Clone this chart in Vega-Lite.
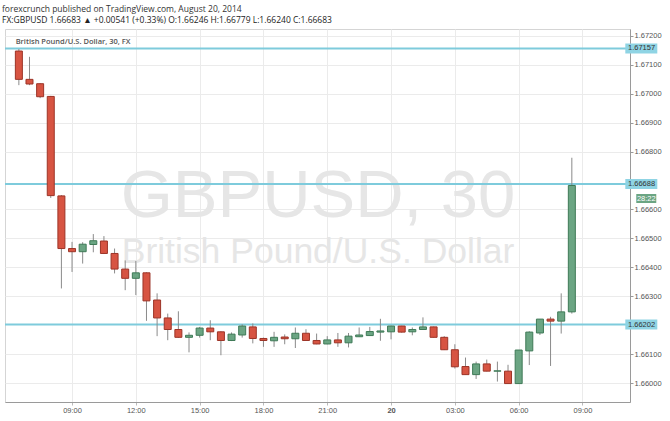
{
  "$schema": "https://vega.github.io/schema/vega-lite/v6.json",
  "width": 625,
  "height": 373,
  "autosize": {"type": "none"},
  "padding": {"left": 5, "top": 29, "right": 40, "bottom": 19},
  "background": "white",
  "title": {
    "text": "forexcrunch  published on TradingView.com, August 20, 2014",
    "subtitle": "FX:GBPUSD 1.66683 ▲ +0.00541 (+0.33%) O:1.66246 H:1.66779 L:1.66240 C:1.66683",
    "anchor": "start",
    "frame": "group",
    "orient": "top",
    "offset": 5,
    "dx": -3,
    "font": "Open Sans",
    "fontSize": 8.5,
    "fontWeight": "normal",
    "color": "#333333",
    "subtitleFont": "Open Sans",
    "subtitleFontSize": 8.5,
    "subtitleColor": "#222222",
    "subtitlePadding": 2
  },
  "datasets": {
    "candles": [
      {"t": "2014-08-19T06:30:00Z", "open": 1.67148, "high": 1.67155, "low": 1.67030, "close": 1.67050},
      {"t": "2014-08-19T07:00:00Z", "open": 1.67050, "high": 1.67128, "low": 1.67030, "close": 1.67034},
      {"t": "2014-08-19T07:30:00Z", "open": 1.67035, "high": 1.67037, "low": 1.66985, "close": 1.66990},
      {"t": "2014-08-19T08:00:00Z", "open": 1.66991, "high": 1.66993, "low": 1.66640, "close": 1.66648},
      {"t": "2014-08-19T08:30:00Z", "open": 1.66647, "high": 1.66650, "low": 1.66327, "close": 1.66465},
      {"t": "2014-08-19T09:00:00Z", "open": 1.66465, "high": 1.66488, "low": 1.66384, "close": 1.66454},
      {"t": "2014-08-19T09:30:00Z", "open": 1.66454, "high": 1.66487, "low": 1.66413, "close": 1.66480},
      {"t": "2014-08-19T10:00:00Z", "open": 1.66479, "high": 1.66515, "low": 1.66452, "close": 1.66492},
      {"t": "2014-08-19T10:30:00Z", "open": 1.66491, "high": 1.66508, "low": 1.66446, "close": 1.66448},
      {"t": "2014-08-19T11:00:00Z", "open": 1.66448, "high": 1.66465, "low": 1.66379, "close": 1.66394},
      {"t": "2014-08-19T11:30:00Z", "open": 1.66394, "high": 1.66424, "low": 1.66321, "close": 1.66362},
      {"t": "2014-08-19T12:00:00Z", "open": 1.66362, "high": 1.66422, "low": 1.66304, "close": 1.66381},
      {"t": "2014-08-19T12:30:00Z", "open": 1.66381, "high": 1.66383, "low": 1.66215, "close": 1.66284},
      {"t": "2014-08-19T13:00:00Z", "open": 1.66287, "high": 1.66310, "low": 1.66162, "close": 1.66225},
      {"t": "2014-08-19T13:30:00Z", "open": 1.66225, "high": 1.66240, "low": 1.66148, "close": 1.66185},
      {"t": "2014-08-19T14:00:00Z", "open": 1.66185, "high": 1.66248, "low": 1.66156, "close": 1.66158},
      {"t": "2014-08-19T14:30:00Z", "open": 1.66158, "high": 1.66175, "low": 1.66106, "close": 1.66165},
      {"t": "2014-08-19T15:00:00Z", "open": 1.66165, "high": 1.66194, "low": 1.66157, "close": 1.66190},
      {"t": "2014-08-19T15:30:00Z", "open": 1.66190, "high": 1.66217, "low": 1.66148, "close": 1.66177},
      {"t": "2014-08-19T16:00:00Z", "open": 1.66177, "high": 1.66179, "low": 1.66096, "close": 1.66147},
      {"t": "2014-08-19T16:30:00Z", "open": 1.66147, "high": 1.66175, "low": 1.66145, "close": 1.66169},
      {"t": "2014-08-19T17:00:00Z", "open": 1.66166, "high": 1.66203, "low": 1.66157, "close": 1.66197},
      {"t": "2014-08-19T17:30:00Z", "open": 1.66194, "high": 1.66206, "low": 1.66137, "close": 1.66154},
      {"t": "2014-08-19T18:00:00Z", "open": 1.66154, "high": 1.66157, "low": 1.66125, "close": 1.66147},
      {"t": "2014-08-19T18:30:00Z", "open": 1.66146, "high": 1.66177, "low": 1.66125, "close": 1.66158},
      {"t": "2014-08-19T19:00:00Z", "open": 1.66159, "high": 1.66168, "low": 1.66134, "close": 1.66153},
      {"t": "2014-08-19T19:30:00Z", "open": 1.66153, "high": 1.66192, "low": 1.66121, "close": 1.66172},
      {"t": "2014-08-19T20:00:00Z", "open": 1.66172, "high": 1.66186, "low": 1.66146, "close": 1.66147},
      {"t": "2014-08-19T20:30:00Z", "open": 1.66147, "high": 1.66171, "low": 1.66134, "close": 1.66135},
      {"t": "2014-08-19T21:00:00Z", "open": 1.66135, "high": 1.66162, "low": 1.66134, "close": 1.66149},
      {"t": "2014-08-19T21:30:00Z", "open": 1.66149, "high": 1.66173, "low": 1.66125, "close": 1.66139},
      {"t": "2014-08-19T22:00:00Z", "open": 1.66139, "high": 1.66173, "low": 1.66123, "close": 1.66162},
      {"t": "2014-08-19T22:30:00Z", "open": 1.66160, "high": 1.66192, "low": 1.66159, "close": 1.66166},
      {"t": "2014-08-19T23:00:00Z", "open": 1.66164, "high": 1.66194, "low": 1.66163, "close": 1.66178},
      {"t": "2014-08-19T23:30:00Z", "open": 1.66176, "high": 1.66222, "low": 1.66146, "close": 1.66180},
      {"t": "2014-08-20T00:00:00Z", "open": 1.66177, "high": 1.66198, "low": 1.66151, "close": 1.66197},
      {"t": "2014-08-20T00:30:00Z", "open": 1.66197, "high": 1.66198, "low": 1.66174, "close": 1.66176},
      {"t": "2014-08-20T01:00:00Z", "open": 1.66177, "high": 1.66192, "low": 1.66165, "close": 1.66185},
      {"t": "2014-08-20T01:30:00Z", "open": 1.66185, "high": 1.66227, "low": 1.66184, "close": 1.66194},
      {"t": "2014-08-20T02:00:00Z", "open": 1.66194, "high": 1.66195, "low": 1.66157, "close": 1.66158},
      {"t": "2014-08-20T02:30:00Z", "open": 1.66158, "high": 1.66162, "low": 1.66114, "close": 1.66115},
      {"t": "2014-08-20T03:00:00Z", "open": 1.66115, "high": 1.66134, "low": 1.66050, "close": 1.66056},
      {"t": "2014-08-20T03:30:00Z", "open": 1.66057, "high": 1.66088, "low": 1.66029, "close": 1.66029},
      {"t": "2014-08-20T04:00:00Z", "open": 1.66029, "high": 1.66074, "low": 1.66014, "close": 1.66066},
      {"t": "2014-08-20T04:30:00Z", "open": 1.66066, "high": 1.66081, "low": 1.66040, "close": 1.66041},
      {"t": "2014-08-20T05:00:00Z", "open": 1.66041, "high": 1.66074, "low": 1.66005, "close": 1.66042},
      {"t": "2014-08-20T05:30:00Z", "open": 1.66041, "high": 1.66063, "low": 1.65998, "close": 1.65998},
      {"t": "2014-08-20T06:00:00Z", "open": 1.65998, "high": 1.66114, "low": 1.65997, "close": 1.66114},
      {"t": "2014-08-20T06:30:00Z", "open": 1.66111, "high": 1.66179, "low": 1.66062, "close": 1.66176},
      {"t": "2014-08-20T07:00:00Z", "open": 1.66173, "high": 1.66221, "low": 1.66166, "close": 1.66221},
      {"t": "2014-08-20T07:30:00Z", "open": 1.66221, "high": 1.66229, "low": 1.66059, "close": 1.66214},
      {"t": "2014-08-20T08:00:00Z", "open": 1.66214, "high": 1.66310, "low": 1.66171, "close": 1.66246},
      {"t": "2014-08-20T08:30:00Z", "open": 1.66246, "high": 1.66779, "low": 1.66240, "close": 1.66683}
    ],
    "levels": [
      {"level": 1.67157, "label": "1.67157"},
      {"level": 1.66688, "label": "1.66688"},
      {"level": 1.66202, "label": "1.66202"}
    ],
    "timer": [
      {"level": 1.66638, "label": "28:22"}
    ]
  },
  "layer": [
    {
      "data": {"values": [{}]},
      "mark": {"type": "text", "font": "Liberation Sans", "fontSize": 67, "color": "#e6e6e6", "align": "center", "baseline": "alphabetic"},
      "encoding": {
        "x": {"datum": 1408480440000, "type": "temporal"},
        "y": {"datum": 1.66575, "type": "quantitative"},
        "text": {"value": "GBPUSD, 30"}
      }
    },
    {
      "data": {"values": [{}]},
      "mark": {"type": "text", "font": "Liberation Sans", "fontSize": 35.5, "color": "#e6e6e6", "align": "center", "baseline": "alphabetic"},
      "encoding": {
        "x": {"datum": 1408480440000, "type": "temporal"},
        "y": {"datum": 1.66414, "type": "quantitative"},
        "text": {"value": "British Pound/U.S. Dollar"}
      }
    },
    {
      "data": {"values": [{}]},
      "mark": {"type": "text", "font": "Open Sans", "fontSize": 7.5, "fontWeight": 600, "color": "#555555", "align": "left", "baseline": "alphabetic"},
      "encoding": {
        "x": {"datum": 1408429260000, "type": "temporal"},
        "y": {"datum": 1.67174, "type": "quantitative"},
        "text": {"value": "British Pound/U.S. Dollar, 30, FX"}
      }
    },
    {
      "data": {"name": "levels"},
      "mark": {"type": "rule", "color": "#7ecbdc", "strokeWidth": 2},
      "encoding": {
        "y": {"field": "level", "type": "quantitative"}
      }
    },
    {
      "data": {"name": "candles"},
      "mark": {"type": "rule", "color": "#8a8a8a", "strokeWidth": 1},
      "encoding": {
        "x": {
          "field": "t",
          "type": "temporal",
          "scale": {"domain": [1408428300000, 1408532400000], "nice": false},
          "axis": {
            "title": null,
            "values": [1408438800000, 1408449600000, 1408460400000, 1408471200000, 1408482000000, 1408492800000, 1408503600000, 1408514400000, 1408525200000],
            "tickCount": 20,
            "labelExpr": "hours(datum.value) == 0 ? timeFormat(datum.value, '%d') : timeFormat(datum.value, '%H:%M')",
            "labelFontWeight": {"condition": {"test": "hours(datum.value) == 0", "value": "bold"}, "value": "normal"},
            "grid": true,
            "gridColor": "#ebebeb",
            "domainColor": "#9a9a9a",
            "tickColor": "#bbbbbb",
            "tickSize": 3,
            "labelColor": "#555555",
            "labelFontSize": 7.5,
            "labelPadding": 1
          }
        },
        "y": {
          "field": "low",
          "type": "quantitative",
          "scale": {"domain": [1.659343, 1.672242], "zero": false, "nice": false},
          "axis": {
            "title": null,
            "orient": "right",
            "values": [1.660, 1.661, 1.663, 1.664, 1.665, 1.666, 1.668, 1.669, 1.670, 1.671, 1.672],
            "tickCount": 20,
            "format": ".5f",
            "labelOverlap": false,
            "grid": true,
            "gridColor": "#ebebeb",
            "domainColor": "#9a9a9a",
            "tickColor": "#9a9a9a",
            "tickSize": 3,
            "labelColor": "#555555",
            "labelFontSize": 7.5,
            "labelPadding": 1
          }
        },
        "y2": {"field": "high"}
      }
    },
    {
      "data": {"name": "candles"},
      "mark": {"type": "bar", "size": 7, "strokeWidth": 1},
      "encoding": {
        "x": {"field": "t", "type": "temporal"},
        "y": {"field": "open", "type": "quantitative"},
        "y2": {"field": "close"},
        "fill": {"condition": {"test": "datum.close >= datum.open", "value": "#6ba583"}, "value": "#d75442"},
        "stroke": {"condition": {"test": "datum.close >= datum.open", "value": "#3f7a57"}, "value": "#9c3427"}
      }
    },
    {
      "data": {"name": "levels"},
      "mark": {"type": "tick", "orient": "horizontal", "size": 32, "thickness": 10, "color": "#8fd4e4", "opacity": 1, "clip": false},
      "encoding": {
        "x": {"datum": 1408535160000, "type": "temporal"},
        "y": {"field": "level", "type": "quantitative"}
      }
    },
    {
      "data": {"name": "levels"},
      "mark": {"type": "text", "align": "left", "baseline": "middle", "dx": 3, "fontSize": 7.5, "color": "#333333", "clip": false},
      "encoding": {
        "x": {"datum": 1408532400000, "type": "temporal"},
        "y": {"field": "level", "type": "quantitative"},
        "text": {"field": "label"}
      }
    },
    {
      "data": {"name": "timer"},
      "mark": {"type": "tick", "orient": "horizontal", "size": 20, "thickness": 9, "color": "#6ba583", "opacity": 1, "clip": false},
      "encoding": {
        "x": {"datum": 1408536000000, "type": "temporal"},
        "y": {"field": "level", "type": "quantitative"}
      }
    },
    {
      "data": {"name": "timer"},
      "mark": {"type": "text", "align": "center", "baseline": "middle", "fontSize": 7.5, "color": "#ffffff", "clip": false},
      "encoding": {
        "x": {"datum": 1408536000000, "type": "temporal"},
        "y": {"field": "level", "type": "quantitative"},
        "text": {"field": "label"}
      }
    }
  ],
  "config": {
    "view": {"stroke": "#d5d5d5"},
    "axis": {"labelOverlap": false}
  }
}
